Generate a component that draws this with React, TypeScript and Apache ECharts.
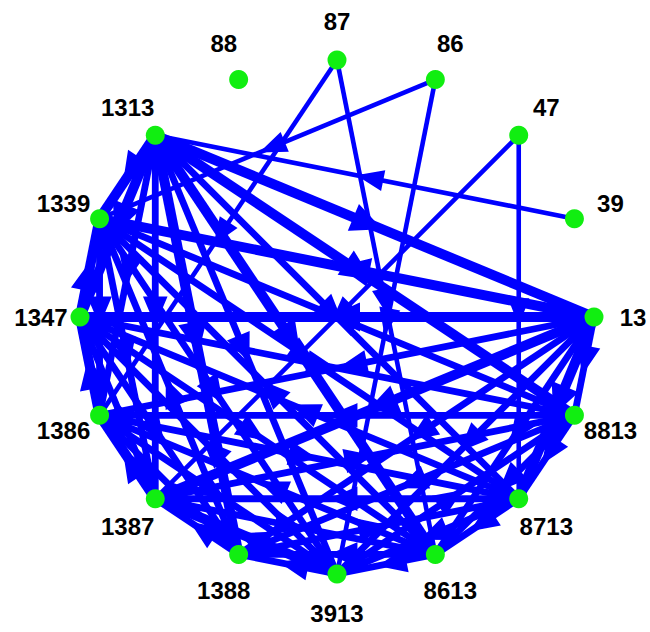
import React, { useEffect, useRef } from 'react';
import * as echarts from 'echarts';

// Nodes in circular order, starting at 3 o'clock and going clockwise.
const NODES = ['13', '8813', '8713', '8613', '3913', '1388', '1387', '1386', '1347', '1339', '1313', '88', '87', '86', '47', '39'];

// Directed edges: [source, target, weight]
const EDGES: [string, string, number][] = [
  ['1313', '13', 3], ['1313', '8813', 3], ['1313', '8713', 2], ['1313', '8613', 3], ['1313', '3913', 2],
  ['1313', '1388', 3], ['1313', '1387', 2], ['1313', '1386', 2], ['1313', '1347', 3], ['1313', '1339', 3],
  ['13', '8813', 2], ['13', '8713', 3], ['13', '8613', 2], ['13', '3913', 2], ['13', '1388', 2],
  ['13', '1387', 3], ['13', '1386', 2], ['13', '1347', 3], ['13', '1339', 3],
  ['8813', '8713', 2], ['8813', '8613', 2], ['3913', '8813', 2], ['8813', '1388', 2], ['1387', '8813', 2],
  ['8813', '1386', 2], ['1347', '8813', 2], ['8813', '1339', 2],
  ['8713', '8613', 2], ['8713', '3913', 2], ['1388', '8713', 2], ['8713', '1387', 2], ['1386', '8713', 2],
  ['8713', '1347', 2], ['1339', '8713', 2],
  ['8613', '3913', 2], ['8613', '1388', 2], ['1387', '8613', 2], ['8613', '1386', 2], ['1347', '8613', 2],
  ['8613', '1339', 2],
  ['3913', '1388', 2], ['3913', '1387', 3], ['1386', '3913', 2], ['3913', '1347', 2], ['1339', '3913', 2],
  ['1388', '1387', 2], ['1388', '1386', 2], ['1347', '1388', 2], ['1388', '1339', 2],
  ['1387', '1386', 3], ['1387', '1347', 2], ['1339', '1387', 2],
  ['1386', '1347', 3], ['1339', '1386', 2],
  ['1347', '1339', 3],
  ['39', '1313', 1], ['86', '1339', 1], ['86', '3913', 1], ['87', '1386', 1], ['87', '8613', 1],
  ['47', '8713', 1], ['47', '1387', 1],
];

const EDGE_COLOR = '#0000ff';
const NODE_COLOR = '#11ee11';
const LABEL_DIST = 39;
const WIDTH_BY_WEIGHT = [0, 4.6, 6.8, 10];

export default function App() {
  const ref = useRef<HTMLDivElement>(null);

  useEffect(() => {
    const chart = echarts.init(ref.current!, null, { renderer: 'svg' });
    const indexOf = (n: string) => NODES.indexOf(n);
    const edgeData = EDGES.map(([s, t, w]) => [indexOf(s), indexOf(t), w]);

    const nodeData = NODES.map((name, i) => {
      const theta = (i / NODES.length) * Math.PI * 2;
      return {
        name,
        value: [1, i],
        label: { offset: [LABEL_DIST * Math.cos(theta), LABEL_DIST * Math.sin(theta)] },
      };
    });

    chart.setOption({
      animation: false,
      backgroundColor: '#ffffff',
      polar: { center: [337, 317], radius: 257 },
      angleAxis: {
        type: 'value', min: 0, max: NODES.length, startAngle: 0, clockwise: true, show: false,
      },
      radiusAxis: { type: 'value', min: 0, max: 1, show: false },
      series: [
        {
          type: 'custom',
          coordinateSystem: 'polar',
          silent: true,
          z: 2,
          data: edgeData,
          renderItem: (_params: any, api: any) => {
            const s = api.value(0);
            const t = api.value(1);
            const w = api.value(2);
            const a = api.coord([1, s]);
            const b = api.coord([1, t]);
            const lw = WIDTH_BY_WEIGHT[w] || 5;
            const dx = b[0] - a[0];
            const dy = b[1] - a[1];
            const len = Math.hypot(dx, dy) || 1;
            const ux = dx / len;
            const uy = dy / len;
            // arrowhead sits at the middle of the edge, pointing at the target
            const mx = (a[0] + b[0]) / 2 + ux * 6;
            const my = (a[1] + b[1]) / 2 + uy * 6;
            const L = 20 + lw * 0.8;
            const S = 6 + lw * 0.7;
            const p1 = [mx - ux * L - uy * S, my - uy * L + ux * S];
            const p2 = [mx - ux * L + uy * S, my - uy * L - ux * S];
            return {
              type: 'group',
              children: [
                {
                  type: 'line',
                  shape: { x1: a[0], y1: a[1], x2: b[0], y2: b[1] },
                  style: { stroke: EDGE_COLOR, lineWidth: lw },
                },
                {
                  type: 'polygon',
                  shape: { points: [p1, [mx, my], p2] },
                  style: { stroke: EDGE_COLOR, fill: EDGE_COLOR, lineWidth: 2, lineJoin: 'miter' },
                },
              ],
            };
          },
        },
        {
          type: 'scatter',
          coordinateSystem: 'polar',
          silent: true,
          z: 5,
          symbol: 'circle',
          symbolSize: 19,
          itemStyle: { color: NODE_COLOR, opacity: 1 },
          data: nodeData,
          label: {
            show: true,
            position: 'inside',
            align: 'center',
            verticalAlign: 'middle',
            formatter: (p: any) => p.name,
            color: '#000000',
            opacity: 1,
            fontFamily: 'Arial, "Liberation Sans", sans-serif',
            fontWeight: 'bold',
            fontSize: 24,
          },
        },
      ],
    });

    return () => chart.dispose();
  }, []);

  return (
    <div
      ref={ref}
      style={{ position: 'absolute', left: 0, top: 0, width: 650, height: 632, background: '#fff' }}
    />
  );
}
